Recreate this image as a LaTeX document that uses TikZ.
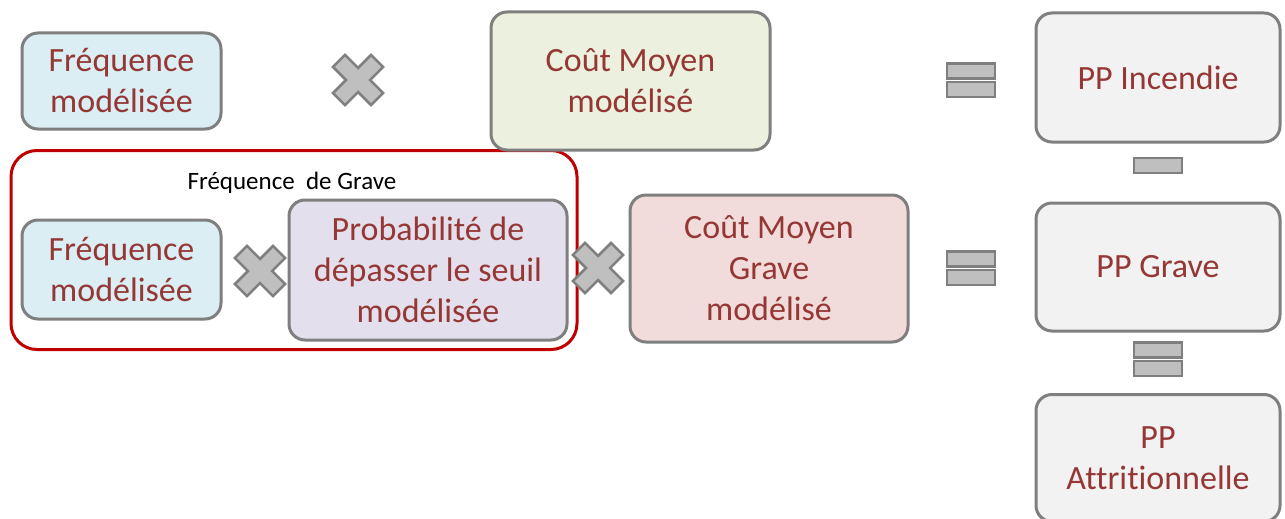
\documentclass[tikz,border=0pt]{standalone}
\usepackage{fontspec}
\setmainfont[Ligatures=NoCommon]{Carlito}
\definecolor{boxline}{HTML}{7F7F7F}
\definecolor{boxtext}{HTML}{953735}
\definecolor{symfill}{HTML}{BFBFBF}
\definecolor{framered}{HTML}{C00000}
\definecolor{fillblue}{HTML}{DAEEF3}
\definecolor{fillgreen}{HTML}{EBF1DE}
\definecolor{fillgray}{HTML}{F2F2F2}
\definecolor{fillpurple}{HTML}{E4DFEC}
\definecolor{fillpink}{HTML}{F2DCDB}
\tikzset{
  termbox/.style={draw=boxline, line width=3pt, rounded corners=16pt,
    text=boxtext, align=center, inner sep=0pt,
    font=\fontsize{34}{41}\selectfont},
  groupframe/.style={draw=framered, line width=3pt, rounded corners=26pt, inner sep=0pt},
  symstyle/.style={fill=symfill, draw=boxline, line width=2.5pt, line join=miter},
  mulsign/.pic={
    \path[symstyle, rotate=45]
      (-8.5,-27) -- (8.5,-27) -- (8.5,-8.5) -- (27,-8.5) -- (27,8.5) -- (8.5,8.5) -- (8.5,27)
      -- (-8.5,27) -- (-8.5,8.5) -- (-27,8.5) -- (-27,-8.5) -- (-8.5,-8.5) -- cycle;
  },
  barsign/.pic={
    \path[symstyle] (-24,-7.5) rectangle (24,7.5);
  },
  eqsign/.pic={
    \path[symstyle] (-24,-16.5) rectangle (24,-1.5);
    \path[symstyle] (-24,2) rectangle (24,17);
  },
}
\begin{document}
\begin{tikzpicture}[x=1pt,y=-1pt]
\useasboundingbox (0,0) rectangle (1285,519);
\fill[white] (0,0) rectangle (1285,519);

% group frame for the severe-claim frequency
\node[groupframe, minimum width=566pt, minimum height=199pt] (frame) at (294,250) {};
\node[font=\fontsize{25}{30}\selectfont] (framelabel) at (292,183) {Fréquence~ de Grave};

% top row: fire
\node[termbox, fill=fillblue, minimum width=199pt, minimum height=96pt] (freq1) at (121.5,81) {Fréquence\\modélisée};
\node[termbox, fill=fillgreen, minimum width=279pt, minimum height=138pt] (cost1) at (630.5,81) {Coût Moyen\\modélisé};
\node[termbox, fill=fillgray, minimum width=244pt, minimum height=129pt] (ppinc) at (1158,77.5) {PP Incendie};

% middle row: severe claims
\node[termbox, fill=fillblue, minimum width=199pt, minimum height=99pt] (freq2) at (121.5,269.5) {Fréquence\\modélisée};
\node[termbox, fill=fillpurple, minimum width=278pt, minimum height=140pt] (prob) at (428,270) {Probabilité de\\dépasser le seuil\\modélisée};
\node[termbox, fill=fillpink, minimum width=278pt, minimum height=147pt] (cost2) at (769,268.5) {Coût Moyen\\Grave\\modélisé};
\node[termbox, fill=fillgray, minimum width=244pt, minimum height=128pt] (ppgrave) at (1158,267) {PP Grave};

% bottom: attritional
\node[termbox, fill=fillgray, minimum width=244pt, minimum height=127pt] (ppattr) at (1158,458) {PP\\Attritionnelle};

% operators
\pic at (358,80) {mulsign};
\pic at (260,271) {mulsign};
\pic at (598,268) {mulsign};
\pic at (971,80) {eqsign};
\pic at (971,268) {eqsign};
\pic at (1158,165.5) {barsign};
\pic at (1158,359) {eqsign};
\end{tikzpicture}
\end{document}
